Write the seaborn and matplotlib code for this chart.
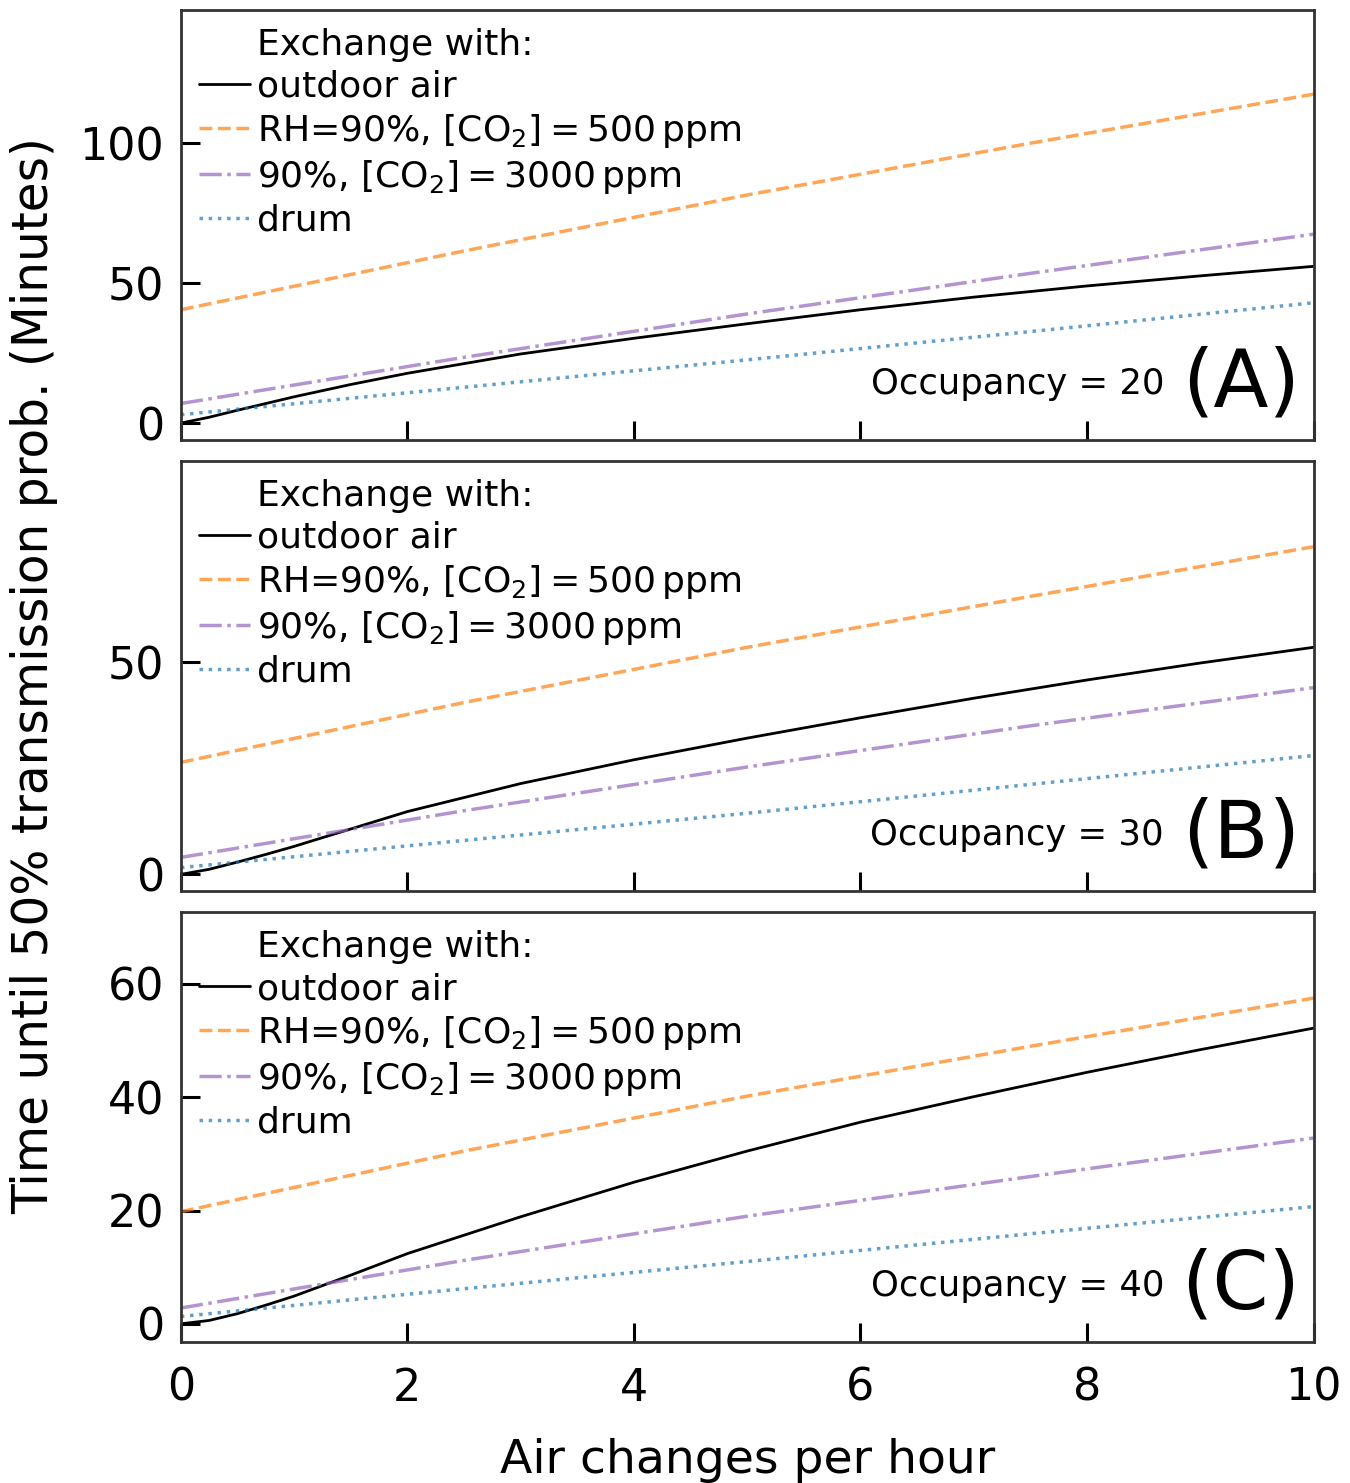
import numpy as np
import pandas as pd
import seaborn as sns
from matplotlib import pyplot as plt

sns.set_style("ticks")
plt.rcParams['font.family'] = ['DejaVu Sans']
plt.rcParams['mathtext.fontset'] = 'dejavusans'
plt.rcParams['text.color'] = 'black'
plt.rcParams['axes.labelcolor'] = 'black'
plt.rcParams['xtick.color'] = 'black'
plt.rcParams['ytick.color'] = 'black'

# air changes per hour
ach_fine = [0, 0.25, 0.5, 0.75, 1, 1.5, 2, 3, 4, 5, 6, 7, 8, 9, 10]
ach_coarse = [0, 2.5, 5, 7.5, 10]

occupancies = [20, 30, 40]
panel_tags = ['(A)', '(B)', '(C)']

# outdoor air (read at ach_fine)
outdoor = [
    [0, 2.1, 4.6, 7.0, 9.4, 13.8, 17.8, 24.7, 30.3, 35.5, 40.5, 45, 49, 52.6, 56],
    [0, 1.2, 2.9, 4.7, 6.6, 10.7, 14.8, 21.4, 27, 32.1, 36.9, 41.5, 45.8, 49.8, 53.5],
    [0, 0.6, 1.8, 3.3, 4.9, 8.6, 12.4, 18.9, 25, 30.5, 35.6, 40.1, 44.4, 48.4, 52.2],
]
# RH=90%, CO2=500 ppm (read at ach_coarse)
rh_500 = [
    [40.5, 61.5, 81.5, 100, 117.5],
    [26.4, 40.5, 53.5, 65.5, 77.2],
    [19.8, 30.5, 40.2, 49, 57.5],
]
# 90%, CO2=3000 ppm
rh_3000 = [
    [7, 23.5, 39, 53.5, 67.5],
    [4, 15, 25.3, 35, 44],
    [2.8, 11.2, 19, 26, 32.8],
]
# drum
drum = [
    [3, 12.8, 22.6, 32.7, 43],
    [1.6, 8, 14.4, 21.2, 28],
    [1.3, 6.2, 11, 15.9, 20.7],
]

ylims = [(-6, 147.6), (-3.9, 97.4), (-3.2, 72.7)]
ytick_sets = [[0, 50, 100], [0, 50], [0, 20, 40, 60]]

fig = plt.figure(figsize=(13.5, 14.83), dpi=100)
gs = fig.add_gridspec(3, 1, left=0.134, right=0.973, bottom=0.0951, top=0.9933, hspace=0.049)
axes = [fig.add_subplot(gs[i]) for i in range(3)]

co2_500 = r'RH=90%, [CO$_2$]$=$500$\,$ppm'
co2_3000 = r'90%, [CO$_2$]$=$3000$\,$ppm'

for i, ax in enumerate(axes):
    ax.plot([], [], ' ', label='Exchange with:')
    sns.lineplot(x=ach_fine, y=outdoor[i], ax=ax, color='black', lw=2, label='outdoor air')
    sns.lineplot(x=ach_coarse, y=rh_500[i], ax=ax, color='tab:orange', alpha=0.7,
                 lw=2.5, linestyle='--', label=co2_500)
    sns.lineplot(x=ach_coarse, y=rh_3000[i], ax=ax, color='tab:purple', alpha=0.7,
                 lw=2.5, linestyle='-.', label=co2_3000)
    sns.lineplot(x=ach_coarse, y=drum[i], ax=ax, color='tab:blue', alpha=0.7,
                 lw=2.5, linestyle=':', label='drum')

    ax.set_xlim(0, 10)
    ax.set_ylim(*ylims[i])
    ax.set_yticks(ytick_sets[i])
    ax.set_xticks([0, 2, 4, 6, 8, 10])
    ax.tick_params(direction='in', length=14, width=2.2, labelsize=32, color='black')
    ax.tick_params(axis='y', pad=12)
    ax.tick_params(axis='x', pad=18)
    for sp in ax.spines.values():
        sp.set_linewidth(2)
        sp.set_color('#333333')
    if i < 2:
        ax.tick_params(labelbottom=False)

    ax.legend(loc='upper left', frameon=False, fontsize=26, handlelength=1.4,
              handletextpad=0.2, labelspacing=0.22, borderaxespad=0.3,
              borderpad=0.2)

    ax.text(0.868, 0.13, f'Occupancy = {occupancies[i]}', transform=ax.transAxes,
            ha='right', va='center', fontsize=25.5)
    ax.text(0.988, 0.13, panel_tags[i], transform=ax.transAxes,
            ha='right', va='center', fontsize=58)
    ax.set_xlabel('')
    ax.set_ylabel('')

axes[1].set_ylabel('Time until 50% transmission prob. (Minutes)', fontsize=35, labelpad=36)
axes[2].set_xlabel('Air changes per hour', fontsize=34, labelpad=20)

fig.savefig('out.png', dpi=100)
